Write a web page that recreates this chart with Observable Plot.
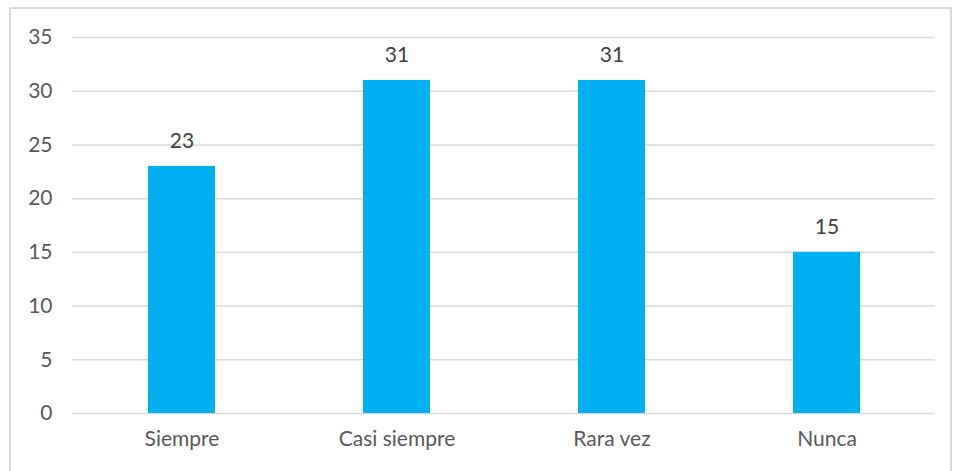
<!DOCTYPE html>
<html>
<head>
<meta charset="utf-8">
<script src="https://cdn.jsdelivr.net/npm/d3@7"></script>
<script src="https://cdn.jsdelivr.net/npm/@observablehq/plot@0.6"></script>
<style>
  html, body { margin: 0; padding: 0; background: #fff; }
  #frame { position: absolute; left: 9px; top: 7px; width: 943px; height: 470px;
           border-top: 2px solid #d9d9d9; border-left: 2px solid #d9d9d9; border-right: 2px solid #d9d9d9; box-sizing: border-box; }
  #chart { position: absolute; left: 0; top: 0; }
</style>
</head>
<body>
<div id="frame"></div>
<div id="chart"></div>
<script>
const categories = ["Siempre", "Casi siempre", "Rara vez", "Nunca"];
const values = [23, 31, 31, 15];
const yTicks = [0, 5, 10, 15, 20, 25, 30, 35];

const data = categories.map((c, i) => ({category: c, value: values[i]}));

const chart = Plot.plot({
  width: 955,
  height: 471,
  marginTop: 37,
  marginBottom: 58,
  marginLeft: 72,
  marginRight: 20,
  style: {fontFamily: "Lato, 'Open Sans', sans-serif", fontSize: "21px", color: "#595959", background: "transparent"},
  x: {domain: categories, paddingInner: 0.69, paddingOuter: 0.345, label: null},
  y: {domain: [0, 35], label: null},
  marks: [
    Plot.gridY(yTicks, {stroke: "#d9d9d9", strokeOpacity: 1, strokeWidth: 1.5}),
    Plot.axisY(yTicks, {tickSize: 0, tickPadding: 20, label: null, fontSize: 21, fill: "#595959"}),
    Plot.axisX({tickSize: 0, tickPadding: 18, label: null, fontSize: 21, fill: "#595959"}),
    Plot.barY(data, {x: "category", y: "value", fill: "#00b0f0"}),
    Plot.text(data, {x: "category", y: "value", text: d => String(d.value), dy: -25, fontSize: 21, fill: "#404040"})
  ]
});
document.getElementById("chart").appendChild(chart);
</script>
</body>
</html>
